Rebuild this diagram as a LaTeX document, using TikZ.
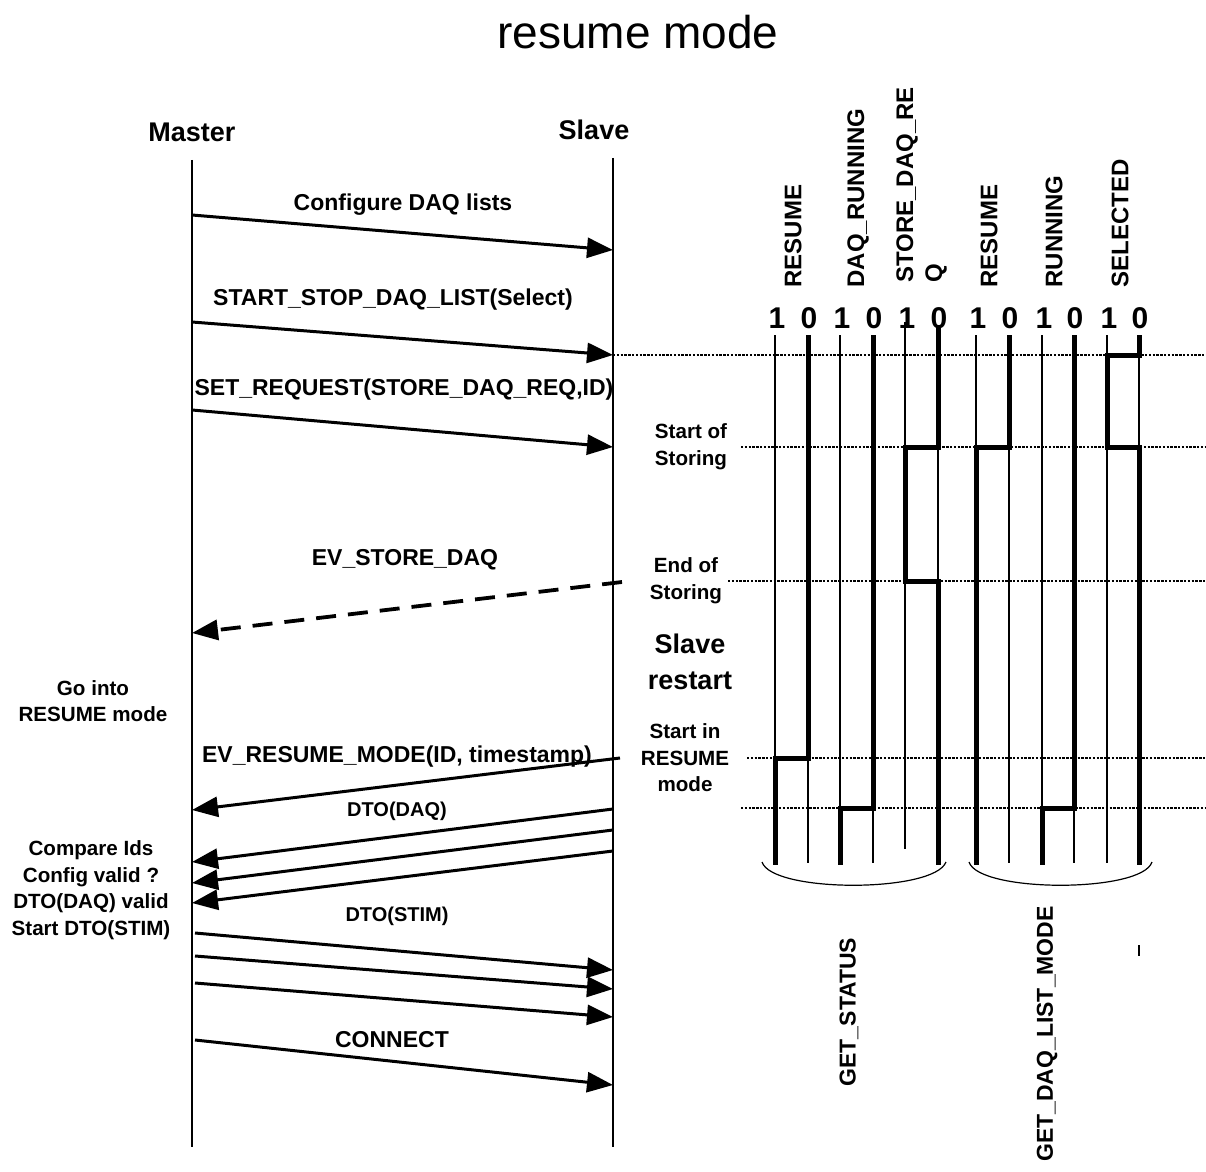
\documentclass[tikz,border=0pt]{standalone}
\usepackage{fontspec}
\setmainfont{Liberation Sans}
\usetikzlibrary{arrows.meta}
\begin{document}
\begin{tikzpicture}[x=0.5pt,y=-0.5pt,
  lifeline/.style={line width=1pt},
  msg/.style={line width=1.5pt,-{Triangle[length=13pt,width=10pt]}},
  dmsg/.style={msg, dash pattern=on 10pt off 6pt, line width=1.9pt},
  sigthick/.style={line width=2.5pt, line join=miter},
  sigthin/.style={line width=0.55pt},
  dotln/.style={line width=1.2pt, dash pattern=on 1.2pt off 0.7pt},
  lbl/.style={font=\fontsize{11.5}{13.5}\selectfont\bfseries, inner sep=0},
  smalllbl/.style={font=\fontsize{10.3}{13.3}\selectfont\bfseries, align=center, inner sep=0},
  siglbl/.style={font=\fontsize{12}{14.5}\selectfont\bfseries, rotate=90, anchor=west, inner sep=0},
  digit/.style={font=\fontsize{15}{15}\selectfont\bfseries, inner sep=0},
  bracket/.style={line width=0.6pt}
]
\useasboundingbox (0,0) rectangle (1206,1172);

% title
\node[font=\fontsize{23}{23}\selectfont] (title) at (638,32) {resume mode};

% lifelines
\node[font=\fontsize{13.5}{13.5}\selectfont\bfseries] (master) at (192,132) {Master};
\node[font=\fontsize{13.5}{13.5}\selectfont\bfseries] (slave) at (594,130) {Slave};
\coordinate (mTop) at (192,160);
\coordinate (mBot) at (192,1147);
\coordinate (sTop) at (613,158);
\coordinate (sBot) at (613,1147);
\draw[lifeline] (mTop) -- (mBot);
\draw[lifeline] (sTop) -- (sBot);

% dotted time lines
\coordinate (s2) at (613,355);
\coordinate (d1) at (1206,355);
\coordinate (d2a) at (741,447); \coordinate (d2b) at (1206,447);
\coordinate (d3a) at (728,581); \coordinate (d3b) at (1206,581);
\coordinate (d4a) at (747,758); \coordinate (d4b) at (1206,758);
\coordinate (d5a) at (741,808); \coordinate (d5b) at (1206,808);
\draw[dotln] (s2) -- (d1);
\draw[dotln] (d2a) -- (d2b);
\draw[dotln] (d3a) -- (d3b);
\draw[dotln] (d4a) -- (d4b);
\draw[dotln] (d5a) -- (d5b);

% messages master -> slave
\coordinate (m1) at (192,215); \coordinate (s1) at (613,250);
\draw[msg] (m1) -- (s1);
\node[lbl] (l1) at (403,205) {Configure DAQ lists};

\coordinate (m2) at (192,322);
\draw[msg] (m2) -- (s2);
\node[lbl] (l2) at (393,300) {START\_STOP\_DAQ\_LIST(Select)};

\coordinate (m3) at (192,410); \coordinate (s3) at (613,447);
\draw[msg] (m3) -- (s3);
\node[lbl] (l3) at (404,390) {SET\_REQUEST(STORE\_DAQ\_REQ,ID)};

% slave -> master
\coordinate (s4) at (622,582); \coordinate (m4) at (192,633);
\draw[dmsg] (s4) -- (m4);
\node[lbl] (l4) at (405,560) {EV\_STORE\_DAQ};

\coordinate (s5) at (620,758); \coordinate (m5) at (192,810);
\draw[msg] (s5) -- (m5);
\node[lbl] (l5) at (397,757) {EV\_RESUME\_MODE(ID, timestamp)};

\coordinate (s6) at (613,809); \coordinate (m6) at (192,862);
\coordinate (s7) at (613,830); \coordinate (m7) at (192,883);
\coordinate (s8) at (613,851); \coordinate (m8) at (192,903);
\draw[msg] (s6) -- (m6);
\draw[msg] (s7) -- (m7);
\draw[msg] (s8) -- (m8);
\node[font=\fontsize{10}{12}\selectfont\bfseries, inner sep=0] (l6) at (397,811) {DTO(DAQ)};

% master -> slave STIM
\coordinate (m9) at (195,933); \coordinate (s9) at (613,970);
\coordinate (m10) at (195,956); \coordinate (s10) at (613,989);
\coordinate (m11) at (195,983); \coordinate (s11) at (613,1017);
\draw[msg] (m9) -- (s9);
\draw[msg] (m10) -- (s10);
\draw[msg] (m11) -- (s11);
\node[font=\fontsize{10}{12}\selectfont\bfseries, inner sep=0] (l9) at (397,916) {DTO(STIM)};

\coordinate (m12) at (195,1040); \coordinate (s12) at (613,1085);
\draw[msg] (m12) -- (s12);
\node[lbl] (l12) at (392,1040) {CONNECT};

% left annotations
\node[smalllbl] (goin) at (93,701) {Go into\\RESUME mode};
\node[smalllbl] (cmp) at (91,890) {Compare Ids\\Config valid ?\\DTO(DAQ) valid\\Start DTO(STIM)};

% middle annotations
\node[smalllbl] (sos) at (691,447) {Start of\\Storing};
\node[smalllbl] (eos) at (686,581) {End of\\Storing};
\node[font=\fontsize{13.5}{18}\selectfont\bfseries, align=center, inner sep=0] (sr) at (690,662) {Slave\\restart};
\node[smalllbl] (sir) at (685,758) {Start in\\RESUME\\mode};

% signal header labels
\node[siglbl] (h1) at (793,288) {RESUME};
\node[siglbl] (h2) at (858,288) {DAQ\_RUNNING};
\node[siglbl] (h3) at (907,283) {STORE\_DAQ\_RE};
\node[siglbl] (h3b) at (936,283) {Q};
\node[siglbl] (h4) at (989,288) {RESUME};
\node[siglbl] (h5) at (1054,288) {RUNNING};
\node[siglbl] (h6) at (1120,288) {SELECTED};

% digits
\foreach \a/\b [count=\i] in {775/808,840/873,905/938,976/1009,1042/1074,1107/1139}{
  \node[digit] (one\i) at (\a+2,318) {1};
  \node[digit] (zero\i) at (\b+1,318) {0};
}

% thin base lines
\foreach \xx in {775,808,840,873,938,976,1009,1042,1074,1107,1139}{
  \draw[sigthin] (\xx,335) -- (\xx,863);
}
\draw[sigthin] (905,322) -- (905,849);

% thick waveforms
\draw[sigthick] (808,335) -- (808,758) -- (775,758) -- (775,865);
\draw[sigthick] (873,335) -- (873,808) -- (840,808) -- (840,865);
\draw[sigthick] (938,325) -- (938,447) -- (905,447) -- (905,581) -- (938,581) -- (938,865);
\draw[sigthick] (1009,335) -- (1009,447) -- (976,447) -- (976,865);
\draw[sigthick] (1074,335) -- (1074,808) -- (1042,808) -- (1042,865);
\draw[sigthick] (1139,335) -- (1139,355) -- (1107,355) -- (1107,447) -- (1139,447) -- (1139,865);

% brackets
\draw[bracket] (762,862) .. controls (772,893) and (934,893) .. (946,862);
\draw[bracket] (969,862) .. controls (979,893) and (1142,893) .. (1152,862);

% bottom labels
\node[lbl, rotate=90] (gs) at (849,1012) {GET\_STATUS};
\node[lbl, rotate=90] (gd) at (1047,1034) {GET\_DAQ\_LIST\_MODE};
\draw[line width=0.6pt] (1139,945) -- (1139,956);

\end{tikzpicture}
\end{document}
